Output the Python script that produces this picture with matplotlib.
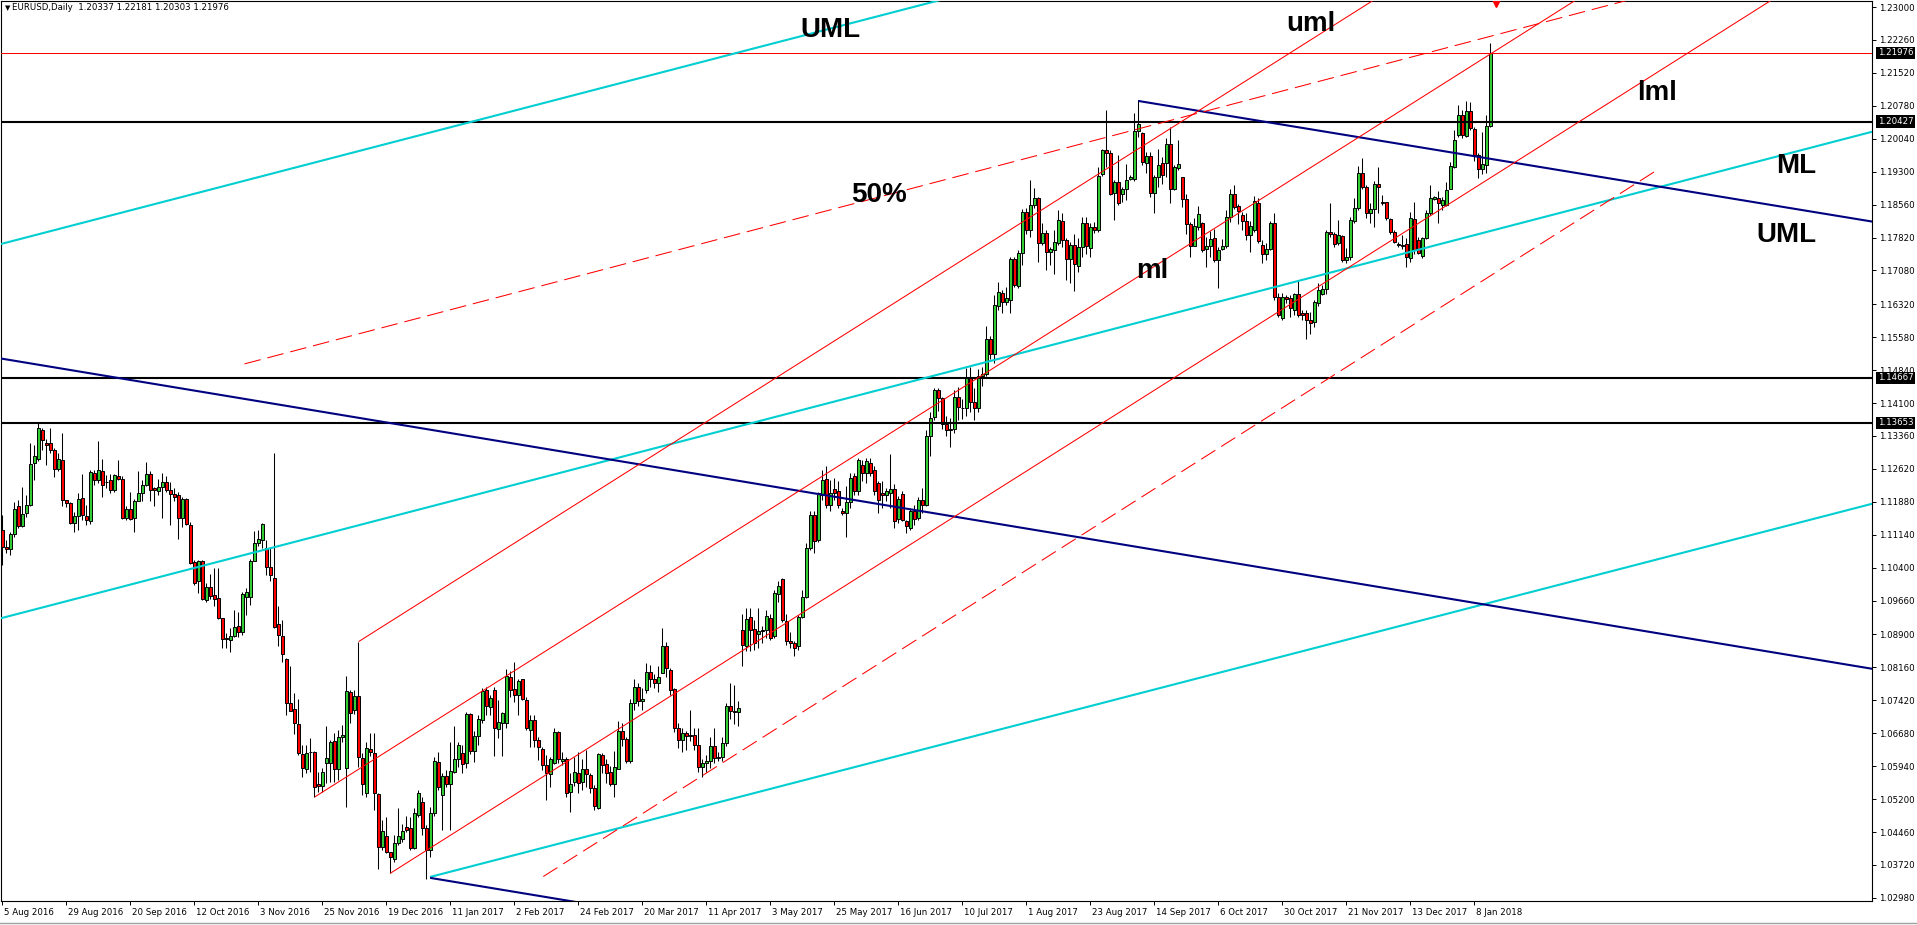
import numpy as np
import matplotlib.pyplot as plt
import matplotlib.transforms as mtransforms
from matplotlib.lines import Line2D

plt.rcParams['lines.scale_dashes'] = False
plt.rcParams['font.family'] = ['DejaVu Sans']

# ---------- Data ----------
# EURUSD daily bars, prices in 1e-4 units, bar 0 = 5 Aug 2016, last bar = 12 Jan 2018
header = "EURUSD,Daily  1.20337 1.22181 1.20303 1.21976"

opens = [
    11125, 11087, 11083, 11115, 11178, 11134, 11162, 11180, 11276, 11284,
    11350, 11320, 11320, 11305, 11261, 11282, 11192, 11186, 11141, 11156,
    11196, 11156, 11146, 11252, 11237, 11258, 11233, 11237, 11215, 11246,
    11240, 11151, 11173, 11151, 11191, 11207, 11226, 11251, 11219, 11213,
    11221, 11233, 11215, 11206, 11204, 11151, 11194, 11135, 11052, 11009,
    11056, 10967, 10997, 10979, 10973, 10926, 10879, 10878, 10887, 10908,
    10895, 10975, 10975, 11056, 11095, 11102, 11084, 11042, 11016, 10913,
    10887, 10834, 10737, 10722, 10689, 10621, 10587, 10625, 10625, 10553,
    10550, 10600, 10602, 10650, 10587, 10659, 10589, 10760, 10720, 10752,
    10612, 10534, 10633, 10623, 10532, 10412, 10436, 10400, 10385, 10421,
    10430, 10458, 10456, 10411, 10484, 10513, 10454, 10406, 10488, 10603,
    10529, 10573, 10554, 10582, 10609, 10624, 10600, 10711, 10627, 10662,
    10698, 10765, 10728, 10765, 10677, 10690, 10690, 10795, 10767, 10754,
    10790, 10743, 10676, 10697, 10653, 10632, 10597, 10576, 10600, 10670,
    10606, 10609, 10537, 10559, 10578, 10559, 10587, 10574, 10544, 10499,
    10619, 10599, 10581, 10553, 10588, 10674, 10655, 10605, 10735, 10773,
    10740, 10766, 10806, 10791, 10780, 10803, 10863, 10810, 10768, 10680,
    10652, 10668, 10662, 10664, 10642, 10592, 10600, 10605, 10640, 10612,
    10615, 10645, 10730, 10717, 10715, 10900, 10865, 10930, 10902, 10892,
    10897, 10900, 10926, 10886, 10980, 11015, 10920, 10875, 10871, 10864,
    10930, 10975, 11084, 11159, 11102, 11204, 11239, 11181, 11217, 11212,
    11168, 11162, 11187, 11245, 11212, 11271, 11253, 11275, 11260, 11230,
    11208, 11204, 11208, 11217, 11150, 11206, 11146, 11129, 11168, 11151,
    11193, 11181, 11335, 11379, 11440, 11421, 11362, 11350, 11351, 11423,
    11399, 11400, 11467, 11412, 11398, 11470, 11475, 11555, 11520, 11627,
    11658, 11638, 11642, 11733, 11672, 11748, 11840, 11800, 11854, 11870,
    11770, 11793, 11749, 11755, 11769, 11819, 11776, 11733, 11765, 11718,
    11761, 11815, 11758, 11806, 11799, 11925, 11978, 11972, 11882, 11906,
    11880, 11890, 11913, 11913, 12021, 12016, 11950, 11965, 11881, 11918,
    11950, 11949, 11992, 11892, 11939, 11917, 11869, 11813, 11764, 11806,
    11814, 11757, 11764, 11782, 11731, 11757, 11762, 11828, 11880, 11852,
    11832, 11818, 11787, 11800, 11860, 11765, 11746, 11757, 11814, 11649,
    11602, 11649, 11645, 11620, 11655, 11612, 11612, 11597, 11593, 11635,
    11654, 11666, 11795, 11790, 11769, 11786, 11732, 11738, 11818, 11848,
    11926, 11896, 11838, 11845, 11902, 11862, 11861, 11823, 11795, 11767,
    11766, 11768, 11737, 11823, 11776, 11740, 11780, 11838, 11868, 11870,
    11855, 11855, 11892, 11941, 12012, 12057, 12010, 12066, 12025, 11968,
    11935, 11946, 12033.7,
]

highs = [
    11158, 11102, 11121, 11188, 11192, 11221, 11203, 11321, 11316, 11366,
    11353, 11329, 11353, 11308, 11297, 11342, 11193, 11188, 11166, 11207,
    11251, 11181, 11260, 11260, 11325, 11284, 11248, 11251, 11251, 11282,
    11246, 11179, 11211, 11194, 11258, 11237, 11278, 11258, 11222, 11239,
    11252, 11245, 11233, 11218, 11211, 11200, 11197, 11142, 11058, 11058,
    11058, 11006, 11026, 11039, 11039, 10928, 10893, 10904, 10945, 10940,
    10986, 10994, 11059, 11123, 11125, 11141, 11102, 11084, 11298, 10953,
    10923, 10836, 10818, 10759, 10746, 10642, 10642, 10657, 10627, 10582,
    10589, 10684, 10653, 10668, 10675, 10686, 10797, 10765, 10765, 10874,
    10623, 10649, 10668, 10668, 10533, 10474, 10479, 10402, 10439, 10499,
    10465, 10481, 10479, 10499, 10540, 10525, 10462, 10503, 10615, 10625,
    10578, 10585, 10649, 10684, 10649, 10641, 10716, 10714, 10672, 10709,
    10770, 10773, 10754, 10773, 10743, 10716, 10812, 10808, 10829, 10791,
    10791, 10749, 10710, 10710, 10660, 10638, 10619, 10614, 10679, 10673,
    10626, 10615, 10578, 10615, 10626, 10611, 10630, 10578, 10552, 10624,
    10624, 10610, 10594, 10627, 10696, 10690, 10660, 10745, 10790, 10780,
    10770, 10825, 10821, 10802, 10818, 10904, 10874, 10814, 10770, 10690,
    10680, 10672, 10720, 10680, 10680, 10610, 10620, 10660, 10680, 10625,
    10660, 10735, 10780, 10777, 10740, 10937, 10950, 10950, 10923, 10949,
    10910, 10946, 10935, 10991, 11009, 11017, 10935, 10896, 10875, 10934,
    10990, 11095, 11167, 11167, 11211, 11260, 11268, 11238, 11241, 11234,
    11174, 11223, 11253, 11253, 11287, 11283, 11287, 11287, 11268, 11234,
    11234, 11219, 11296, 11227, 11201, 11212, 11148, 11174, 11181, 11199,
    11219, 11349, 11391, 11444, 11444, 11424, 11380, 11376, 11440, 11446,
    11418, 11488, 11490, 11443, 11487, 11490, 11583, 11560, 11652, 11683,
    11664, 11671, 11739, 11739, 11754, 11845, 11848, 11911, 11893, 11874,
    11814, 11799, 11761, 11799, 11844, 11836, 11780, 11773, 11791, 11780,
    11827, 11827, 11815, 11817, 11941, 11982, 12069, 11978, 11911, 11967,
    11896, 11947, 11922, 12061, 12090, 12018, 11975, 11975, 11922, 11982,
    11963, 12005, 12031, 11945, 12002, 11918, 11880, 11817, 11825, 11852,
    11816, 11783, 11797, 11802, 11761, 11779, 11843, 11891, 11899, 11858,
    11839, 11836, 11820, 11875, 11870, 11776, 11769, 11818, 11836, 11657,
    11657, 11653, 11653, 11657, 11687, 11619, 11620, 11615, 11641, 11679,
    11675, 11799, 11860, 11795, 11821, 11788, 11758, 11829, 11870, 11943,
    11960, 11900, 11859, 11908, 11941, 11877, 11862, 11825, 11799, 11772,
    11787, 11782, 11840, 11861, 11784, 11784, 11844, 11900, 11876, 11887,
    11874, 11907, 11952, 12023, 12080, 12068, 12089, 12087, 12031, 11972,
    12018, 12057, 12218.1,
]

lows = [
    11046, 11072, 11068, 11110, 11129, 11132, 11155, 11178, 11237, 11280,
    11305, 11271, 11297, 11243, 11258, 11179, 11177, 11138, 11121, 11125,
    11147, 11136, 11138, 11226, 11231, 11198, 11220, 11207, 11211, 11237,
    11149, 11147, 11147, 11121, 11189, 11189, 11224, 11189, 11179, 11204,
    11151, 11210, 11136, 11190, 11104, 11132, 11136, 11048, 11001, 10984,
    10968, 10962, 10969, 10954, 10924, 10859, 10859, 10850, 10884, 10885,
    10889, 10934, 10957, 11054, 11089, 11084, 11024, 11009, 10904, 10863,
    10828, 10709, 10717, 10666, 10619, 10569, 10578, 10582, 10525, 10537,
    10537, 10557, 10559, 10559, 10563, 10649, 10503, 10690, 10711, 10593,
    10529, 10524, 10617, 10496, 10364, 10406, 10398, 10353, 10379, 10417,
    10424, 10447, 10405, 10407, 10480, 10439, 10340, 10391, 10481, 10540,
    10451, 10548, 10451, 10578, 10593, 10578, 10589, 10621, 10604, 10642,
    10690, 10709, 10709, 10617, 10657, 10617, 10679, 10750, 10739, 10709,
    10742, 10675, 10638, 10638, 10608, 10585, 10518, 10548, 10599, 10600,
    10596, 10524, 10492, 10549, 10533, 10540, 10548, 10533, 10495, 10497,
    10579, 10556, 10549, 10524, 10587, 10640, 10600, 10600, 10720, 10730,
    10720, 10758, 10773, 10769, 10761, 10803, 10795, 10754, 10670, 10635,
    10625, 10630, 10650, 10630, 10580, 10570, 10580, 10590, 10600, 10605,
    10605, 10640, 10700, 10688, 10685, 10818, 10853, 10853, 10855, 10859,
    10870, 10881, 10878, 10882, 10964, 10919, 10867, 10860, 10841, 10855,
    10926, 10971, 11080, 11074, 11098, 11192, 11174, 11167, 11192, 11174,
    11159, 11110, 11174, 11204, 11204, 11234, 11230, 11245, 11204, 11163,
    11174, 11189, 11174, 11129, 11140, 11144, 11118, 11125, 11137, 11148,
    11163, 11178, 11290, 11373, 11392, 11351, 11335, 11312, 11343, 11372,
    11375, 11380, 11390, 11371, 11391, 11448, 11470, 11510, 11500, 11620,
    11612, 11630, 11612, 11671, 11668, 11720, 11790, 11784, 11849, 11726,
    11765, 11709, 11720, 11701, 11765, 11761, 11686, 11679, 11662, 11705,
    11739, 11745, 11739, 11793, 11795, 11920, 11940, 11878, 11821, 11855,
    11862, 11866, 11911, 11908, 12008, 11945, 11926, 11872, 11836, 11896,
    11902, 11918, 11859, 11889, 11934, 11850, 11790, 11738, 11764, 11798,
    11749, 11716, 11738, 11727, 11668, 11755, 11758, 11817, 11847, 11813,
    11798, 11776, 11750, 11795, 11770, 11724, 11731, 11754, 11641, 11603,
    11596, 11634, 11604, 11608, 11603, 11597, 11553, 11566, 11580, 11627,
    11653, 11656, 11784, 11761, 11765, 11728, 11724, 11731, 11815, 11844,
    11892, 11825, 11814, 11806, 11836, 11855, 11821, 11790, 11769, 11760,
    11757, 11715, 11728, 11746, 11746, 11737, 11778, 11832, 11866, 11815,
    11844, 11853, 11890, 11939, 12008, 12006, 12007, 12023, 11953, 11915,
    11925, 11927, 12030.3,
]

closes = [
    11087, 11083, 11115, 11173, 11134, 11160, 11180, 11274, 11291, 11353,
    11327, 11316, 11305, 11261, 11284, 11192, 11186, 11140, 11156, 11194,
    11159, 11147, 11256, 11237, 11260, 11226, 11232, 11215, 11248, 11240,
    11151, 11172, 11149, 11190, 11207, 11226, 11251, 11215, 11215, 11221,
    11233, 11215, 11205, 11200, 11151, 11194, 11138, 11051, 11005, 11054,
    10970, 10997, 10977, 10970, 10926, 10879, 10883, 10887, 10906, 10896,
    10981, 10986, 11056, 11095, 11104, 11138, 11041, 11024, 10906, 10889,
    10845, 10737, 10719, 10690, 10623, 10591, 10624, 10626, 10548, 10550,
    10580, 10612, 10649, 10587, 10660, 10664, 10763, 10714, 10751, 10614,
    10555, 10634, 10625, 10533, 10412, 10448, 10402, 10389, 10422, 10437,
    10449, 10450, 10409, 10488, 10533, 10454, 10406, 10488, 10606, 10548,
    10572, 10555, 10583, 10609, 10642, 10599, 10711, 10627, 10662, 10699,
    10763, 10729, 10748, 10679, 10694, 10713, 10797, 10765, 10754, 10786,
    10746, 10679, 10698, 10653, 10638, 10597, 10578, 10609, 10671, 10609,
    10609, 10534, 10555, 10581, 10557, 10587, 10576, 10546, 10505, 10622,
    10596, 10579, 10555, 10592, 10674, 10655, 10605, 10735, 10773, 10740,
    10745, 10806, 10791, 10782, 10795, 10863, 10814, 10766, 10680, 10652,
    10668, 10662, 10664, 10642, 10592, 10600, 10605, 10640, 10612, 10615,
    10645, 10730, 10717, 10715, 10725, 10866, 10925, 10900, 10871, 10898,
    10899, 10932, 10882, 10983, 10998, 10923, 10875, 10871, 10860, 10930,
    10975, 11084, 11159, 11099, 11207, 11237, 11181, 11207, 11208, 11181,
    11162, 11187, 11242, 11212, 11281, 11253, 11279, 11253, 11212, 11193,
    11204, 11212, 11217, 11144, 11195, 11148, 11133, 11168, 11150, 11193,
    11181, 11337, 11376, 11440, 11421, 11362, 11350, 11351, 11423, 11402,
    11400, 11467, 11412, 11398, 11470, 11475, 11555, 11520, 11630, 11660,
    11638, 11645, 11733, 11675, 11747, 11840, 11800, 11855, 11870, 11770,
    11793, 11750, 11756, 11771, 11821, 11776, 11733, 11765, 11723, 11761,
    11814, 11762, 11806, 11799, 11920, 11978, 11972, 11880, 11906, 11859,
    11892, 11911, 11917, 12021, 12036, 11952, 11965, 11883, 11919, 11945,
    11923, 11992, 11892, 11940, 11947, 11869, 11813, 11764, 11807, 11834,
    11753, 11764, 11779, 11731, 11753, 11762, 11828, 11880, 11850, 11842,
    11819, 11787, 11807, 11865, 11775, 11746, 11757, 11814, 11649, 11608,
    11649, 11643, 11623, 11655, 11608, 11607, 11597, 11590, 11638, 11664,
    11666, 11795, 11790, 11767, 11788, 11732, 11738, 11821, 11848, 11926,
    11896, 11838, 11846, 11902, 11896, 11860, 11825, 11795, 11772, 11765,
    11763, 11739, 11825, 11754, 11748, 11780, 11838, 11870, 11872, 11859,
    11866, 11888, 11942, 12001, 12057, 12012, 12066, 12027, 11968, 11935,
    11948, 12033.7, 12197.6,
]

date_labels = [
    '5 Aug 2016', '29 Aug 2016', '20 Sep 2016', '12 Oct 2016', '3 Nov 2016',
    '25 Nov 2016', '19 Dec 2016', '11 Jan 2017', '2 Feb 2017', '24 Feb 2017',
    '20 Mar 2017', '11 Apr 2017', '3 May 2017', '25 May 2017', '16 Jun 2017',
    '10 Jul 2017', '1 Aug 2017', '23 Aug 2017', '14 Sep 2017', '6 Oct 2017',
    '30 Oct 2017', '21 Nov 2017', '13 Dec 2017', '8 Jan 2018',
]
label_step = 16  # bars between date labels

price_ticks = [
    1.02980, 1.03720, 1.04460, 1.05200, 1.05940, 1.06680, 1.07420, 1.08160,
    1.08900, 1.09660, 1.10400, 1.11140, 1.11880, 1.12620, 1.13360, 1.14100,
    1.14840, 1.15580, 1.16320, 1.17080, 1.17820, 1.18560, 1.19300, 1.20040,
    1.20780, 1.21520, 1.22260, 1.23000,
]
levels = [1.20427, 1.14667, 1.13653]
last_price = 1.21976

# trend line anchors as (bar, price)
pf_upper = [(-1, 1.1766), (250, 1.2352)]
pf_median = [(-1, 1.0925), (468, 1.2021)]
pf_lower = [(106.9, 1.0345), (468, 1.1185)]
down_upper = [(283.9, 1.2089), (468, 1.1817)]
down_median = [(-1, 1.1511), (468, 1.0812)]
down_lower = [(106.9, 1.0343), (143.2, 1.0289)]
ch_upper = [(89.05, 1.0874), (374.4, 1.2495)]
ch_median = [(78.1, 1.0525), (424.4, 1.2492)]
ch_lower = [(96.9, 1.0353), (449.4, 1.2356)]
ch_half = [(60.5, 1.1498), (424.4, 1.2358)]
ch_low_dash = [(135.2, 1.0346), (414.1, 1.1936)]

# text labels: (text, bar, baseline price)
line_labels = [
    ('UML', 207.1, 1.2233), ('uml', 327.1, 1.2246), ('lml', 413.6, 1.2091),
    ('ML', 448.4, 1.1927), ('UML', 445.9, 1.1772), ('50%', 219.1, 1.1862),
    ('ml', 287.4, 1.1691),
]

# ---------- Plotting ----------
W, H = 1917, 925
fig = plt.figure(figsize=(W / 100, H / 100), dpi=100)
ax = fig.add_axes([1 / W, 24 / H, 1871 / W, 900 / H])
ax.set_xlim(-0.375, 467.4)
ax.set_ylim(1.02910, 1.23135)
for sp in ax.spines.values():
    sp.set_linewidth(0.8)
    sp.set_color('black')

o = np.array(opens) / 1e4
h = np.array(highs) / 1e4
l = np.array(lows) / 1e4
c = np.array(closes) / 1e4
x = np.arange(len(c))

ax.vlines(x, l, h, color='black', linewidth=0.75, zorder=2)
bull = c > o
bear = c < o
flat = c == o
ax.bar(x[bull], (c - o)[bull], bottom=o[bull], width=0.55, color='#32cd32',
       edgecolor='black', linewidth=0.7, zorder=3)
ax.bar(x[bear], (o - c)[bear], bottom=c[bear], width=0.55, color='#ff0000',
       edgecolor='black', linewidth=0.7, zorder=3)
if flat.any():
    ax.hlines(c[flat], x[flat] - 0.4, x[flat] + 0.4, color='black', lw=0.75, zorder=3)


def draw(seg, color, lw, ls='-'):
    (x0, y0), (x1, y1) = seg
    ax.plot([x0, x1], [y0, y1], color=color, lw=lw, ls=ls, zorder=5,
            solid_capstyle='butt', dash_capstyle='butt')


for v in levels:
    ax.axhline(v, color='black', lw=1.5, zorder=5)
ax.axhline(last_price, color='#ff0000', lw=0.75, zorder=5)

cyan = '#00ced1'
navy = '#000080'
for seg in (pf_upper, pf_median, pf_lower):
    draw(seg, cyan, 1.5)
for seg in (down_upper, down_median, down_lower):
    draw(seg, navy, 1.5)
for seg in (ch_upper, ch_median, ch_lower):
    draw(seg, '#ff0000', 0.75)
for seg in (ch_half, ch_low_dash):
    draw(seg, '#ff0000', 0.75, ls=(0, (12, 5)))

ax.plot([373.4], [1.2312], marker='v', color='#ff0000', ms=7, zorder=6)

for txt, bx, by in line_labels:
    ax.text(bx, by, txt, ha='center', va='baseline', fontsize=20,
            fontweight='bold', family='Liberation Sans', color='black', zorder=7)

# right price scale
ax.yaxis.tick_right()
ax.set_yticks(price_ticks)
ax.set_yticklabels([f'{v:.5f}' for v in price_ticks])
ax.tick_params(axis='y', length=3, width=0.7, labelsize=6.2, pad=2, direction='out')

ytrans = ax.get_yaxis_transform()
for v in levels + [last_price]:
    ax.text(1.0030, v, f'{v:.5f}', transform=ytrans, ha='left', va='center',
            fontsize=6.2, color='white', clip_on=False, zorder=10,
            bbox=dict(boxstyle='square,pad=0.18', fc='black', ec='none'))

# bottom date scale
ticks = [label_step * k for k in range(len(date_labels))]
ax.set_xticks(ticks)
ax.set_xticklabels([''] * len(ticks))
ax.tick_params(axis='x', length=3, width=0.7, direction='out')
xtrans = ax.get_xaxis_transform()
for t, lab in zip(ticks, date_labels):
    ax.text(t + 0.5, -0.0125, lab, transform=xtrans, ha='left', va='center',
            fontsize=6.2, clip_on=False)

# header
ax.text(4 / 1871, 1 - 7 / 900, '\u25bc', transform=ax.transAxes, ha='left',
        va='center', fontsize=5)
ax.text(11 / 1871, 1 - 7 / 900, header, transform=ax.transAxes, ha='left',
        va='center', fontsize=6.2)

fig.add_artist(Line2D([0, 1], [1 - 923 / H] * 2, transform=fig.transFigure,
                      color='#a0a0a0', lw=1))

fig.savefig('out.png', dpi=100)
